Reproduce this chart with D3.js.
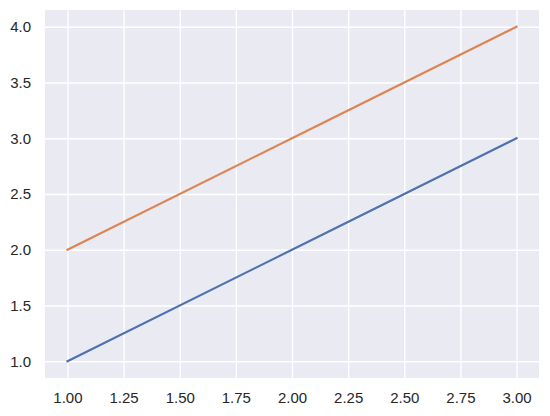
<!DOCTYPE html>
<meta charset="utf-8">
<style>
    body { margin: 0; background: #fff; }
    .tick text { font-family: "Liberation Sans", Arial, sans-serif; font-size: 15px; fill: #262626; }
    .grid line { stroke: #fff; stroke-width: 1.4px; }
    .domain { display: none; }
</style>
<svg width="550" height="416"></svg>
<script src="https://cdn.jsdelivr.net/npm/d3@7"></script>
<script>

    // data
    var xs = [1, 2, 3];
    var seriesA = [1, 2, 3];
    var seriesB = [2, 3, 4];
    var xTicks = [1.00, 1.25, 1.50, 1.75, 2.00, 2.25, 2.50, 2.75, 3.00];
    var yTicks = [1.0, 1.5, 2.0, 2.5, 3.0, 3.5, 4.0];
    var colors = ["#4c72b0", "#dd8452"];

    var plotL = 45, plotR = 539, plotT = 10, plotB = 378;

    var svg = d3.select("svg");

    var x = d3.scaleLinear().domain([0.9, 3.1]).range([plotL, plotR]);
    var y = d3.scaleLinear().domain([0.85, 4.15]).range([plotB, plotT]);

    svg.append("rect")
        .attr("x", plotL).attr("y", plotT)
        .attr("width", plotR - plotL).attr("height", plotB - plotT)
        .attr("fill", "#eaeaf2");

    // gridlines
    svg.append("g").attr("class", "grid")
        .attr("transform", "translate(0," + plotB + ")")
        .call(d3.axisBottom(x).tickValues(xTicks).tickSize(-(plotB - plotT)).tickFormat(""));
    svg.append("g").attr("class", "grid")
        .attr("transform", "translate(" + plotL + ",0)")
        .call(d3.axisLeft(y).tickValues(yTicks).tickSize(-(plotR - plotL)).tickFormat(""));

    // tick labels
    svg.append("g")
        .attr("transform", "translate(0," + plotB + ")")
        .call(d3.axisBottom(x).tickValues(xTicks).tickSize(0).tickPadding(14).tickFormat(d3.format(".2f")));
    svg.append("g")
        .attr("transform", "translate(" + plotL + ",0)")
        .call(d3.axisLeft(y).tickValues(yTicks).tickSize(0).tickPadding(14).tickFormat(d3.format(".1f")));

    var line = d3.line()
        .x(function (d) { return x(d[0]); })
        .y(function (d) { return y(d[1]); });

    [seriesA, seriesB].forEach(function (s, i) {
        svg.append("path")
            .datum(xs.map(function (v, j) { return [v, s[j]]; }))
            .attr("fill", "none")
            .attr("stroke", colors[i])
            .attr("stroke-width", 2.1)
            .attr("stroke-linecap", "square")
            .attr("d", line);
    });

</script>
